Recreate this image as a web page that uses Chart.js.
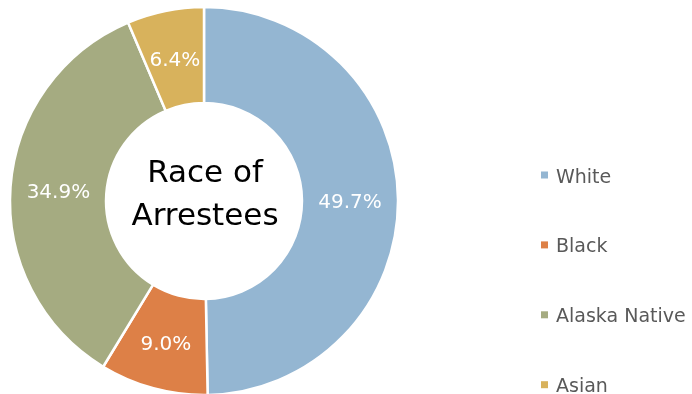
<!DOCTYPE html>
<html>
<head>
<meta charset="utf-8">
<script src="https://cdn.jsdelivr.net/npm/chart.js@4.4.1/dist/chart.umd.min.js"></script>
<style>
  html, body { margin: 0; padding: 0; background: #fff; }
</style>
</head>
<body>
<canvas id="chart" width="692" height="394"></canvas>
<script>
// ── Data ─────────────────────────────────────────────────────────
const labels = ['White', 'Black', 'Alaska Native', 'Asian'];
const values = [49.7, 9.0, 34.9, 6.4];
const colors = ['#94B6D2', '#DD8047', '#A5AB81', '#D8B25C'];
const centerLines = ['Race of', 'Arrestees'];

const FONT = "'DejaVu Sans', Verdana, sans-serif";

// ── Slice labels (value % at arc centroid) ───────────────────────
const sliceLabels = {
  id: 'sliceLabels',
  afterDatasetsDraw(chart) {
    const ctx = chart.ctx;
    const meta = chart.getDatasetMeta(0);
    ctx.save();
    ctx.font = `20px ${FONT}`;
    ctx.fillStyle = '#fff';
    ctx.textAlign = 'center';
    ctx.textBaseline = 'alphabetic';
    meta.data.forEach((arc, i) => {
      const p = arc.tooltipPosition(true);
      ctx.fillText(values[i].toFixed(1) + '%', p.x, p.y + 8);
    });
    ctx.restore();
  }
};

// ── Center title ─────────────────────────────────────────────────
const centerText = {
  id: 'centerText',
  afterDatasetsDraw(chart) {
    const ctx = chart.ctx;
    const arc = chart.getDatasetMeta(0).data[0];
    ctx.save();
    ctx.font = `31px ${FONT}`;
    ctx.fillStyle = '#000';
    ctx.textAlign = 'center';
    ctx.textBaseline = 'alphabetic';
    ctx.fillText(centerLines[0], arc.x + 1, arc.y - 19);
    ctx.fillText(centerLines[1], arc.x + 1, arc.y + 24);
    ctx.restore();
  }
};

// ── Legend (right side, square markers) ──────────────────────────
const sideLegend = {
  id: 'sideLegend',
  afterDraw(chart) {
    const ctx = chart.ctx;
    ctx.save();
    ctx.font = `19px ${FONT}`;
    ctx.textBaseline = 'alphabetic';
    ctx.textAlign = 'left';
    chart.data.labels.forEach((lab, i) => {
      const base = 182.5 + i * 69.9;
      ctx.fillStyle = chart.data.datasets[0].backgroundColor[i];
      ctx.fillRect(541, base - 11, 7, 7);
      ctx.fillStyle = '#595959';
      ctx.fillText(lab, 556, base);
    });
    ctx.restore();
  }
};

new Chart(document.getElementById('chart'), {
  type: 'doughnut',
  data: {
    labels,
    datasets: [{
      data: values,
      backgroundColor: colors,
      borderColor: '#fff',
      borderWidth: 2.5,
      hoverOffset: 0
    }]
  },
  options: {
    responsive: false,
    animation: false,
    radius: 194,
    cutout: '50.5%',
    layout: { padding: { left: 11, right: 295, top: 8, bottom: 0 } },
    plugins: {
      legend: { display: false },
      tooltip: { enabled: false }
    }
  },
  plugins: [sliceLabels, centerText, sideLegend]
});
</script>
</body>
</html>
